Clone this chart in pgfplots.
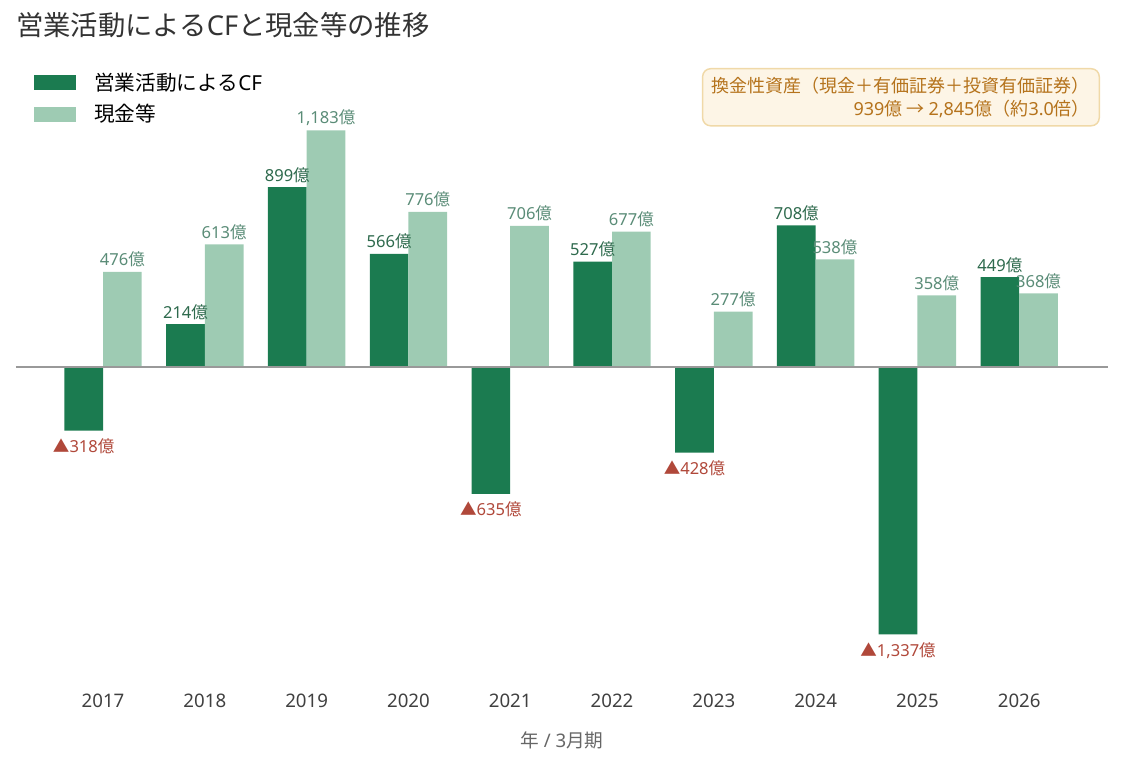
\documentclass[border=0pt]{standalone}
\usepackage{fontspec}
\setmainfont{Noto Sans}
\newfontfamily\cjk{Noto Sans CJK JP}
\usepackage{pgfplots}
\pgfplotsset{compat=1.18}
\definecolor{cfgreen}{HTML}{1B7B50}
\definecolor{cashgreen}{HTML}{9ECBB3}
\definecolor{cflab}{HTML}{2E6A4D}
\definecolor{cashlab}{HTML}{5A8C77}
\definecolor{neglab}{HTML}{B0483A}
\definecolor{zeroline}{HTML}{999999}
\definecolor{notefill}{HTML}{FDF5E6}
\definecolor{notedraw}{HTML}{F0D9A8}
\definecolor{notetext}{HTML}{B5731C}
\newcommand{\oku}{{\cjk 億}}
\newcommand{\ngl}[1]{\raisebox{-2.5pt}[\height][\depth]{\textcolor{neglab}{{\cjk ▲}#1{\cjk 億}}}}
\begin{document}
\begin{tikzpicture}
\useasboundingbox (0,0) rectangle (841.5pt,574.5pt);
\node[anchor=west, text=black!80, font=\fontsize{20.5}{24}\selectfont, inner sep=0pt] at (12pt,555.75pt) {{\cjk 営業活動による}CF{\cjk と現金等の推移}};
\begin{axis}[
  at={(12pt,74.25pt)}, anchor=south west,
  scale only axis, width=819pt, height=420pt,
  xmin=-0.855, xmax=9.872, ymin=-1500, ymax=1300,
  ybar=0pt, bar width=0.38,
  axis line style={draw=none},
  ytick=\empty,
  xtick={0,...,9},
  xticklabels={2017,2018,2019,2020,2021,2022,2023,2024,2025,2026},
  major tick length=0pt,
  xticklabel style={anchor=center, yshift=-25.5pt, font=\fontsize{14}{16}\selectfont, text=black!75},
  xlabel={{\cjk 年} / 3{\cjk 月期}},
  xlabel style={at={(rel axis cs:0.5,0)}, anchor=center, yshift=-54.75pt, font=\fontsize{14}{16}\selectfont, text=black!60},
  clip=false,
  legend style={at={(rel axis cs:0.0165,1.066)}, anchor=north west, draw=none, fill=none,
    font=\fontsize{15.5}{18}\selectfont, row sep=5pt, inner sep=0pt},
  legend cell align=left,
  legend image code/.code={\fill[#1] (0pt,-5.6pt) rectangle (31.5pt,5.6pt); \path (43pt,0pt);},
]
\addplot[fill=cfgreen, draw=none,
  point meta=explicit symbolic, nodes near coords,
  visualization depends on={rawy \as \yv},
  every node near coord/.append style={text=cflab, font=\fontsize{12.4}{14}\selectfont,
    anchor=\ifdim\yv pt<0pt north\else south\fi}]
  coordinates {
  (0,-318) [\ngl{318}]
  (1,214) [214\oku]
  (2,899) [899\oku]
  (3,566) [566\oku]
  (4,-635) [\ngl{635}]
  (5,527) [527\oku]
  (6,-428) [\ngl{428}]
  (7,708) [708\oku]
  (8,-1337) [\ngl{1,337}]
  (9,449) [449\oku]
  };
\addlegendentry{{\cjk 営業活動による}CF}
\addplot[fill=cashgreen, draw=none,
  point meta=explicit symbolic, nodes near coords,
  every node near coord/.append style={text=cashlab, font=\fontsize{12.4}{14}\selectfont, anchor=south}]
  coordinates {
  (0,476) [476\oku]
  (1,613) [613\oku]
  (2,1183) [1,183\oku]
  (3,776) [776\oku]
  (4,706) [706\oku]
  (5,677) [677\oku]
  (6,277) [277\oku]
  (7,538) [538\oku]
  (8,358) [358\oku]
  (9,368) [368\oku]
  };
\addlegendentry{{\cjk 現金等}}
\draw[zeroline, line width=1.5pt] (axis cs:-0.855,0) -- (axis cs:9.872,0);
\end{axis}
\node[anchor=north east, draw=notedraw, fill=notefill, rounded corners=6pt, line width=1.1pt,
  align=right, text=notetext, font=\fontsize{13.5}{17.5}\selectfont, inner xsep=7pt, inner ysep=6pt]
  at (825pt,523.5pt) {{\cjk 換金性資産（現金＋有価証券＋投資有価証券）}\\939{\cjk 億 → }2,845{\cjk 億（約}3.0{\cjk 倍）}};
\end{tikzpicture}
\end{document}
